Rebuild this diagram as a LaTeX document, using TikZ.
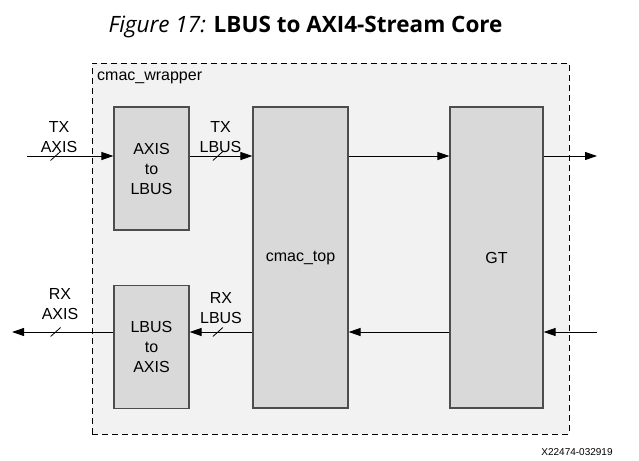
\documentclass[tikz,border=0pt]{standalone}
\usepackage{fontspec}
\setmainfont{Liberation Sans}
\newfontfamily\titlefont{Open Sans}
\usetikzlibrary{arrows.meta}
\definecolor{wrapfill}{HTML}{F2F2F2}
\definecolor{boxfill}{HTML}{D9D9D9}
\definecolor{boxline}{HTML}{4D4D4D}
\begin{document}
\begin{tikzpicture}[
        x=1pt, y=-1pt,
        font=\fontsize{16}{20}\selectfont
    ]
    \tikzset{
        wrapper/.style = {rectangle, draw=black, fill=wrapfill, line width=1pt, dash pattern=on 6pt off 4pt, minimum width=477pt, minimum height=371pt},
        block/.style = {rectangle, draw=boxline, fill=boxfill, line width=1.2pt, align=center, inner sep=0pt},
        smallblock/.style = {block, minimum width=75pt, minimum height=123pt},
        tallblock/.style = {block, minimum height=301pt},
        lbl/.style = {align=center, inner sep=0pt},
        sig/.style = {line width=1pt, -{Triangle[length=12pt,width=8pt]}},
        slash/.style = {line width=0.8pt},
    }
    \useasboundingbox (0,0) rectangle (639,460);
    \node (title) at (305.5,27) {\titlefont\fontsize{22.5}{26}\selectfont\textit{Figure 17:} \textbf{LBUS to AXI4-Stream Core}};
    \node[wrapper] at (330.5,248.5) (wrap) {};
    \node[anchor=base west, inner sep=0pt] at (97,81) (wraplbl) {cmac\_wrapper};
    %
    \node[smallblock] at (151.5,168.5) (a2l) {AXIS\\to\\LBUS};
    \node[smallblock] at (151.5,347) (l2a) {LBUS\\to\\AXIS};
    \node[tallblock, minimum width=95pt] at (300.5,257.5) (cmac) {cmac\_top};
    \node[tallblock, minimum width=93pt] at (496.5,257.5) (gt) {GT};
    %
    \node[lbl] at (59,137) (txaxis) {TX\\AXIS};
    \node[lbl] at (220.5,137) (txlbus) {TX\\LBUS};
    \node[lbl] at (60,304) (rxaxis) {RX\\AXIS};
    \node[lbl] at (221,308) (rxlbus) {RX\\LBUS};
    \node[anchor=base, inner sep=0pt, font=\fontsize{10}{12}\selectfont] at (577,455) (docid) {X22474-032919};
    %
    \coordinate (txin) at (27,156);
    \coordinate (txout) at (597,156);
    \coordinate (rxin) at (597,332);
    \coordinate (rxout) at (12,332);
    %
    \draw[sig] (txin) -- coordinate[pos=0.33] (s1) (txin -| a2l.west);
    \draw[sig] (a2l.east |- txin) -- coordinate[pos=0.45] (s2) (cmac.west |- txin);
    \draw[sig] (cmac.east |- txin) -- (gt.west |- txin);
    \draw[sig] (gt.east |- txin) -- (txout);
    %
    \draw[sig] (rxin) -- (gt.east |- rxin);
    \draw[sig] (gt.west |- rxin) -- (cmac.east |- rxin);
    \draw[sig] (cmac.west |- rxin) -- coordinate[pos=0.55] (s3) (l2a.east |- rxin);
    \draw[sig] (l2a.west |- rxin) -- coordinate[pos=0.57] (s4) (rxout);
    %
    \foreach \s in {s1,s2,s3,s4}
        \draw[slash] (\s) ++(-5,4.5) -- ++(10,-9);
\end{tikzpicture}
\end{document}
